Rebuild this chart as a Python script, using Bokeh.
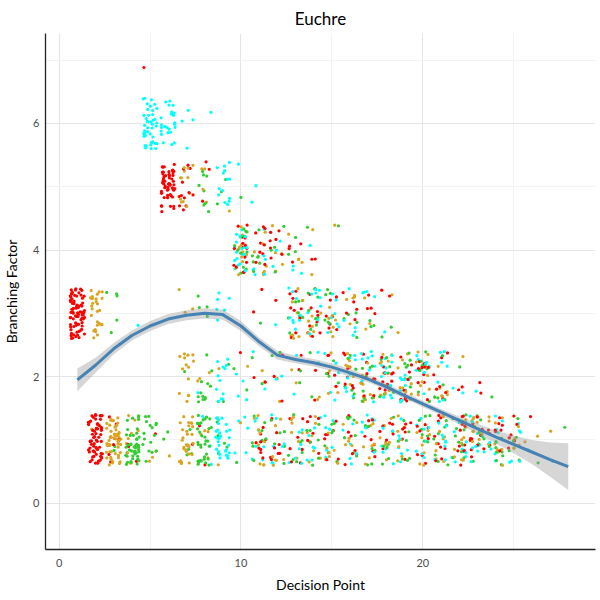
from bokeh.plotting import figure
from bokeh.models import ColumnDataSource, Range1d, FixedTicker
from bokeh.transform import jitter
from bokeh.embed import file_html
from bokeh.resources import INLINE

# ---- data: (decision point, branching factor) cells and point counts per player colour
cell_x = [1, 2, 3, 4,
          5, 5, 6, 7, 8,
          6, 7, 8, 9, 10, 11,
          7, 8, 9,
          10, 11, 12, 13, 14, 15,
          11, 12, 13, 14, 15, 16, 17, 18, 19,
          7, 8, 9, 10, 11, 12, 13, 14, 15, 16, 17, 18, 19, 20, 21, 22, 23, 24,
          2, 3, 4, 5, 6, 7, 8, 9, 10, 11, 12, 13, 14, 15, 16, 17, 18, 19, 20,
          21, 22, 23, 24, 25, 26, 27, 28]
cell_y = [3, 3, 3, 3,
          7, 6, 6, 6, 6,
          5, 5, 5, 5, 5, 5,
          3, 3, 3,
          4, 4, 4, 4, 4, 4,
          3, 3, 3, 3, 3, 3, 3, 3, 3,
          2, 2, 2, 2, 2, 2, 2, 2, 2, 2, 2, 2, 2, 2, 2, 2, 2, 2,
          1, 1, 1, 1, 1, 1, 1, 1, 1, 1, 1, 1, 1, 1, 1, 1, 1, 1, 1,
          1, 1, 1, 1, 1, 1, 1, 1]
n_red = [80, 0, 0, 0,
         1, 0, 0, 0, 0,
         55, 12, 3, 0, 0, 0,
         0, 0, 0,
         15, 9, 7, 4, 2, 0,
         2, 1, 9, 9, 7, 5, 4, 2, 0,
         0, 0, 0, 1, 2, 3, 2, 2, 5, 8, 10, 11, 11, 10, 7, 2, 2, 0,
         65, 8, 4, 1, 0, 1, 2, 0, 0, 9, 8, 7, 7, 7, 7, 7, 7, 7, 8,
         9, 11, 11, 10, 6, 1, 0, 0]
n_gold = [0, 28, 0, 0,
          0, 0, 0, 0, 0,
          0, 12, 4, 1, 0, 0,
          3, 0, 0,
          11, 7, 5, 4, 2, 1,
          0, 0, 8, 8, 7, 5, 3, 1, 1,
          14, 3, 1, 1, 2, 2, 2, 2, 5, 7, 9, 11, 11, 9, 6, 1, 0, 0,
          2, 55, 8, 3, 1, 30, 4, 2, 1, 9, 7, 7, 7, 7, 7, 7, 7, 7, 8,
          9, 11, 10, 10, 6, 2, 1, 0]
n_green = [0, 0, 5, 0,
           0, 0, 0, 0, 0,
           0, 0, 8, 3, 1, 0,
           0, 4, 0,
           13, 7, 4, 3, 1, 1,
           1, 0, 8, 8, 6, 5, 3, 2, 0,
           1, 12, 3, 2, 2, 2, 2, 2, 4, 7, 9, 10, 10, 9, 6, 1, 0, 1,
           1, 2, 45, 16, 2, 4, 35, 5, 1, 9, 7, 7, 7, 7, 7, 7, 7, 7, 8,
           9, 11, 10, 9, 6, 1, 0, 1]
n_cyan = [0, 0, 0, 1,
          0, 45, 25, 4, 1,
          0, 0, 0, 14, 1, 2,
          0, 0, 6,
          19, 7, 4, 3, 1, 0,
          0, 1, 9, 9, 7, 5, 4, 1, 0,
          0, 1, 12, 4, 2, 2, 2, 2, 5, 8, 10, 11, 11, 10, 7, 2, 1, 0,
          0, 0, 0, 0, 0, 0, 3, 30, 5, 7, 7, 7, 7, 7, 7, 7, 7, 7, 8,
          9, 11, 10, 9, 6, 1, 1, 0]
player_colors = ["#FF0000", "#DAA520", "#32CD32", "#00FFFF"]

# ---- loess smooth
smooth_x = [1, 2, 3, 4, 5, 6, 7, 8, 9, 10, 11, 12, 13, 14,
            15, 16, 17, 18, 19, 20, 21, 22, 23, 24, 25, 26, 27, 28]
smooth_y = [1.95, 2.18, 2.44, 2.65, 2.80, 2.91, 2.97, 3.00, 2.98, 2.80, 2.55, 2.34, 2.27, 2.22,
            2.15, 2.06, 1.96, 1.84, 1.70, 1.57, 1.44, 1.31, 1.18, 1.05, 0.93, 0.81, 0.69, 0.58]
smooth_lo = [1.77, 2.06, 2.35, 2.57, 2.72, 2.83, 2.89, 2.92, 2.90, 2.72, 2.48, 2.27, 2.21, 2.16,
             2.09, 2.00, 1.91, 1.79, 1.65, 1.52, 1.39, 1.25, 1.10, 0.95, 0.79, 0.62, 0.42, 0.21]
smooth_hi = [2.13, 2.30, 2.53, 2.73, 2.88, 2.99, 3.05, 3.08, 3.06, 2.88, 2.62, 2.41, 2.33, 2.28,
             2.21, 2.12, 2.01, 1.89, 1.75, 1.62, 1.49, 1.37, 1.26, 1.15, 1.07, 1.00, 0.96, 0.95]

x_ticks = [0, 10, 20]
x_minor = [5, 15, 25]
y_ticks = [0, 2, 4, 6]
y_minor = [1, 3, 5, 7]

# ---- expand cells into individual points (colours interleaved)
px, py, pc = [], [], []
for i in range(len(cell_x)):
    counts = [n_red[i], n_gold[i], n_green[i], n_cyan[i]]
    for k in range(max(counts)):
        for c in range(4):
            if k < counts[c]:
                px.append(cell_x[i])
                py.append(cell_y[i])
                pc.append(player_colors[c])
src = ColumnDataSource(dict(x=px, y=py, color=pc))

p = figure(width=600, height=600, output_backend="svg", toolbar_location=None,
           x_range=Range1d(-0.75, 29.5), y_range=Range1d(-0.73, 7.42),
           min_border_left=45, min_border_right=5, min_border_top=32, min_border_bottom=51)

p.scatter(x=jitter("x", width=0.8), y=jitter("y", width=0.8), fill_color="color",
          line_color=None, size=3.2, source=src)
p.varea(x=smooth_x, y1=smooth_lo, y2=smooth_hi, fill_color="#999999", fill_alpha=0.4)
p.line(smooth_x, smooth_y, line_color="#4682B4", line_width=3)

p.title.text = "Euchre"
p.title.align = "center"
p.title.text_font = "Lato"
p.title.text_font_size = "17px"
p.title.text_font_style = "normal"
p.title.text_color = "#000000"

p.xaxis.ticker = FixedTicker(ticks=x_ticks, minor_ticks=x_minor)
p.yaxis.ticker = FixedTicker(ticks=y_ticks, minor_ticks=y_minor)
p.xaxis.axis_label = "Decision Point"
p.yaxis.axis_label = "Branching Factor"
for ax in (p.xaxis, p.yaxis):
    ax.axis_label_text_font = "Lato"
    ax.axis_label_text_font_size = "14px"
    ax.axis_label_text_font_style = "normal"
    ax.axis_label_text_color = "#000000"
    ax.major_label_text_font = "Lato"
    ax.major_label_text_font_size = "11px"
    ax.major_label_text_color = "#4d4d4d"
    ax.major_tick_out = 0
    ax.major_tick_in = 0
    ax.minor_tick_out = 0
    ax.minor_tick_in = 0
    ax.axis_line_color = "#222222"
    ax.axis_line_width = 1.3
p.xaxis.major_label_standoff = 9
p.xaxis.axis_label_standoff = 6
p.yaxis.major_label_standoff = 6
p.yaxis.axis_label_standoff = 10

p.xgrid.grid_line_color = "#e5e5e5"
p.ygrid.grid_line_color = "#e5e5e5"
p.xgrid.minor_grid_line_color = "#f3f3f3"
p.ygrid.minor_grid_line_color = "#f3f3f3"
p.outline_line_color = None
p.background_fill_color = "white"

open("out.html", "w").write(file_html(p, INLINE))
